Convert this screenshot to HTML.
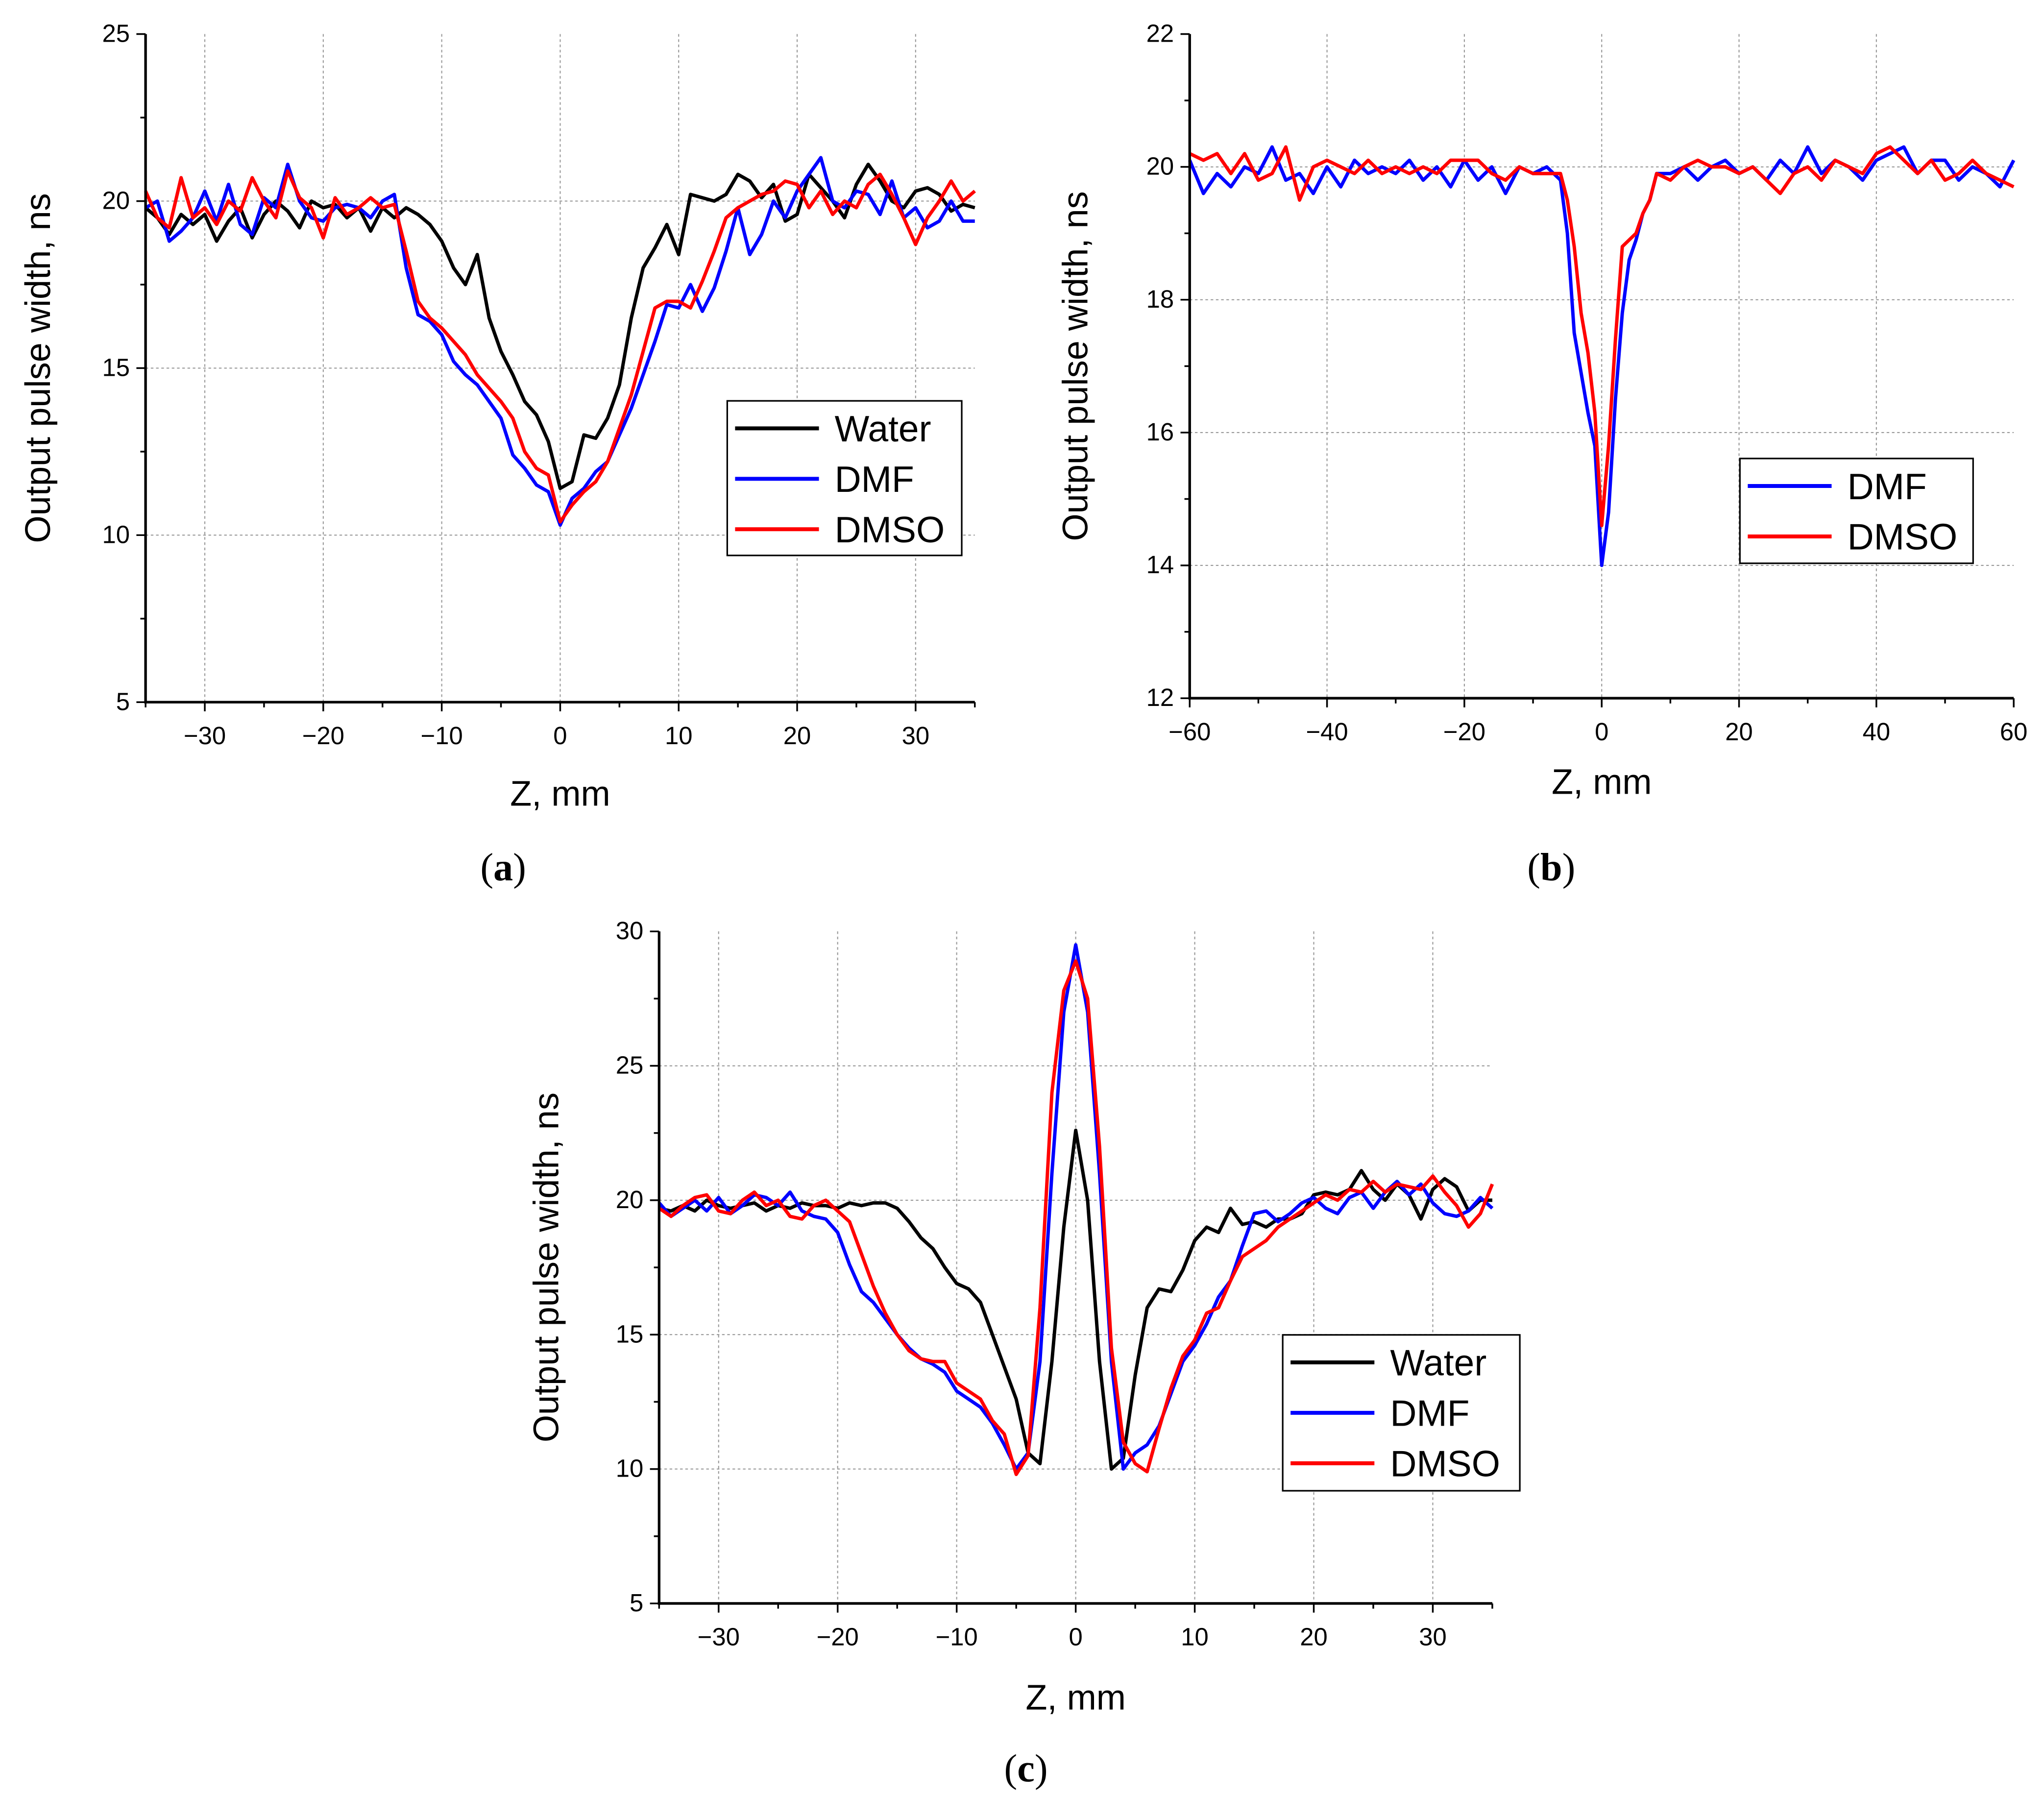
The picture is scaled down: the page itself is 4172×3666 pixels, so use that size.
<!DOCTYPE html>
<html><head><meta charset="utf-8"><style>
html,body{margin:0;padding:0;background:#fff;}
svg{display:block;}
text{font-family:"Liberation Sans Narrow","Liberation Sans",sans-serif;fill:#000;}
.cap{font-family:"Liberation Serif",serif;}
</style></head><body>
<svg id="fig" width="4172" height="3666" viewBox="0 0 1560 1371" xmlns="http://www.w3.org/2000/svg"></svg>
<script>
// ---------- Panel (a) data ----------
const aX = [-35,-34,-33,-32,-31,-30,-29,-28,-27,-26,-25,-24,-23,-22,-21,-20,-19,-18,-17,-16,-15,-14,-13,-12,-11,-10,-9,-8,-7,-6,-5,-4,-3,-2,-1,0,1,2,3,4,5,6,7,8,9,10,11,12,13,14,15,16,17,18,19,20,21,22,23,24,25,26,27,28,29,30,31,32,33,34,35];
const aWater = [19.8,19.5,19.0,19.6,19.3,19.6,18.8,19.4,19.8,18.9,19.6,20.0,19.7,19.2,20.0,19.8,19.9,19.5,19.8,19.1,19.8,19.5,19.8,19.6,19.3,18.8,18.0,17.5,18.4,16.5,15.5,14.8,14.0,13.6,12.8,11.4,11.6,13.0,12.9,13.5,14.5,16.5,18.0,18.6,19.3,18.4,20.2,20.1,20.0,20.2,20.8,20.6,20.1,20.5,19.4,19.6,20.8,20.4,20.0,19.5,20.5,21.1,20.6,20.0,19.8,20.3,20.4,20.2,19.7,19.9,19.8];
const aDMF = [19.8,20.0,18.8,19.1,19.5,20.3,19.4,20.5,19.3,19.0,20.1,19.8,21.1,20.0,19.5,19.4,19.8,19.9,19.8,19.5,20.0,20.2,18.0,16.6,16.4,16.0,15.2,14.8,14.5,14.0,13.5,12.4,12.0,11.5,11.3,10.3,11.1,11.4,11.9,12.2,13.0,13.8,14.8,15.8,16.9,16.8,17.5,16.7,17.4,18.5,19.8,18.4,19.0,20.0,19.5,20.3,20.8,21.3,20.0,19.8,20.3,20.2,19.6,20.6,19.5,19.8,19.2,19.4,20.0,19.4,19.4];
const aDMSO = [20.3,19.5,19.2,20.7,19.5,19.8,19.3,20.0,19.7,20.7,20.0,19.5,20.9,20.1,19.8,18.9,20.1,19.6,19.8,20.1,19.8,19.9,18.5,17.0,16.5,16.2,15.8,15.4,14.8,14.4,14.0,13.5,12.5,12.0,11.8,10.4,10.9,11.3,11.6,12.2,13.2,14.2,15.5,16.8,17.0,17.0,16.8,17.6,18.5,19.5,19.8,20.0,20.2,20.3,20.6,20.5,19.8,20.3,19.6,20.0,19.8,20.5,20.8,20.2,19.5,18.7,19.5,20.0,20.6,20.0,20.3];
const aXTicks = [-30,-20,-10,0,10,20,30];
const aYTicks = [5,10,15,20,25];

// ---------- Panel (b) data ----------
const bX = [-60,-58,-56,-54,-52,-50,-48,-46,-44,-42,-40,-38,-36,-34,-32,-30,-28,-26,-24,-22,-20,-18,-16,-14,-12,-10,-8,-7,-6,-5,-4,-3,-2,-1,0,1,2,3,4,5,6,7,8,10,12,14,16,18,20,22,24,26,28,30,32,34,36,38,40,42,44,46,48,50,52,54,56,58,60];
const bDMF = [20.1,19.6,19.9,19.7,20.0,19.9,20.3,19.8,19.9,19.6,20.0,19.7,20.1,19.9,20.0,19.9,20.1,19.8,20.0,19.7,20.1,19.8,20.0,19.6,20.0,19.9,20.0,19.9,19.8,19.0,17.5,16.9,16.3,15.8,14.0,14.8,16.5,17.8,18.6,18.9,19.3,19.5,19.9,19.9,20.0,19.8,20.0,20.1,19.9,20.0,19.8,20.1,19.9,20.3,19.9,20.1,20.0,19.8,20.1,20.2,20.3,19.9,20.1,20.1,19.8,20.0,19.9,19.7,20.1];
const bDMSO = [20.2,20.1,20.2,19.9,20.2,19.8,19.9,20.3,19.5,20.0,20.1,20.0,19.9,20.1,19.9,20.0,19.9,20.0,19.9,20.1,20.1,20.1,19.9,19.8,20.0,19.9,19.9,19.9,19.9,19.5,18.8,17.8,17.2,16.3,14.6,15.8,17.4,18.8,18.9,19.0,19.3,19.5,19.9,19.8,20.0,20.1,20.0,20.0,19.9,20.0,19.8,19.6,19.9,20.0,19.8,20.1,20.0,19.9,20.2,20.3,20.1,19.9,20.1,19.8,19.9,20.1,19.9,19.8,19.7];
const bXTicks = [-60,-40,-20,0,20,40,60];
const bYTicks = [12,14,16,18,20,22];

// ---------- Panel (c) data ----------
const cX = aX.slice();
const cWater = [19.7,19.6,19.8,19.6,20.0,19.8,19.7,19.8,19.9,19.6,19.8,19.7,19.9,19.8,19.8,19.7,19.9,19.8,19.9,19.9,19.7,19.2,18.6,18.2,17.5,16.9,16.7,16.2,15.0,13.8,12.6,10.6,10.2,14.0,19.0,22.6,20.0,14.0,10.0,10.4,13.5,16.0,16.7,16.6,17.4,18.5,19.0,18.8,19.7,19.1,19.2,19.0,19.3,19.3,19.5,20.2,20.3,20.2,20.4,21.1,20.4,20.0,20.6,20.2,19.3,20.4,20.8,20.5,19.6,20.0,20.0];
const cDMF = [19.9,19.4,19.7,20.0,19.6,20.1,19.5,19.8,20.2,20.1,19.8,20.3,19.6,19.4,19.3,18.8,17.6,16.6,16.2,15.6,15.0,14.5,14.1,13.9,13.6,12.9,12.6,12.3,11.7,10.9,10.0,10.6,14.0,21.0,27.0,29.5,27.0,21.0,14.0,10.0,10.6,10.9,11.6,12.8,14.0,14.6,15.4,16.4,17.0,18.3,19.5,19.6,19.2,19.5,19.9,20.1,19.7,19.5,20.1,20.3,19.7,20.3,20.7,20.2,20.6,19.9,19.5,19.4,19.6,20.1,19.7];
const cDMSO = [19.7,19.4,19.8,20.1,20.2,19.6,19.5,20.0,20.3,19.8,20.0,19.4,19.3,19.8,20.0,19.6,19.2,18.0,16.8,15.8,15.0,14.4,14.1,14.0,14.0,13.2,12.9,12.6,11.8,11.3,9.8,10.5,16.0,24.0,27.8,28.9,27.5,22.0,14.5,11.0,10.2,9.9,11.5,13.0,14.2,14.8,15.8,16.0,17.0,17.9,18.2,18.5,19.0,19.3,19.6,19.9,20.2,20.0,20.4,20.3,20.7,20.3,20.6,20.5,20.4,20.9,20.3,19.8,19.0,19.5,20.6];
const cXTicks = [-30,-20,-10,0,10,20,30];
const cYTicks = [5,10,15,20,25,30];

const NS = "http://www.w3.org/2000/svg";
const svg = document.getElementById('fig');
function mk(tag, attrs, parent){
  const e = document.createElementNS(NS, tag);
  for (const k in attrs) e.setAttribute(k, attrs[k]);
  (parent||svg).appendChild(e);
  return e;
}

function panel(p){
  const g = mk('g', {});
  
  
  const sx = v => p.x0 + (v - p.xmin) / (p.xmax - p.xmin) * (p.x1 - p.x0);
  const sy = v => p.y1 - (v - p.ymin) / (p.ymax - p.ymin) * (p.y1 - p.y0);
  p.xt.forEach(v => { if (v > p.xmin && v < p.xmax) {
    const l = mk('line', {x1:sx(v), x2:sx(v), y1:p.y0, y2:p.y1, stroke:'#999', 'stroke-width':0.8, 'stroke-dasharray':'2,2'}, g);
    
    
  }});
  p.yt.forEach(v => { if (v > p.ymin && v < p.ymax) {
    const l = mk('line', {x1:p.x0, x2:p.x1, y1:sy(v), y2:sy(v), stroke:'#999', 'stroke-width':0.8, 'stroke-dasharray':'2,2'}, g);
    
    
  }});
  p.series.forEach(s => {
    const pts = s.y.map((v,i) => sx(p.xs[i]).toFixed(2) + ',' + sy(v).toFixed(2)).join(' ');
    const pl = mk('polyline', {points:pts, fill:'none', stroke:s.color, 'stroke-width':2.6, 'stroke-linejoin':'round'}, g);
    
    
  });
  const ax = mk('line', {x1:p.x0-1, x2:p.x1, y1:p.y1, y2:p.y1, stroke:'#000', 'stroke-width':2}, g);
  
  
  const ay = mk('line', {x1:p.x0, x2:p.x0, y1:p.y0, y2:p.y1+1, stroke:'#000', 'stroke-width':2}, g);
  
  
  const xstep = p.xt[1] - p.xt[0];
  for (let v = p.xt[0] - xstep; v <= p.xmax + 0.001; v += xstep/2) {
    if (v < p.xmin - 0.001) continue;
    const major = p.xt.includes(Math.round(v*100)/100);
    mk('line', {x1:sx(v), x2:sx(v), y1:p.y1, y2:p.y1 + (major?7:4), stroke:'#000', 'stroke-width':1.3}, g);
  }
  p.xt.forEach(v => {
    const t = mk('text', {x:sx(v), y:p.y1+32, 'font-size':19, 'text-anchor':'middle'}, g);
    t.textContent = (v < 0 ? '\u2212' : '') + Math.abs(v);
    
    
  });
  const ystep = p.yt[1] - p.yt[0];
  for (let v = p.ymin; v <= p.ymax + 0.001; v += ystep/2) {
    const major = p.yt.some(t => Math.abs(t - v) < 0.001);
    mk('line', {x1:p.x0, x2:p.x0 - (major?7:4), y1:sy(v), y2:sy(v), stroke:'#000', 'stroke-width':1.3}, g);
  }
  p.yt.forEach(v => {
    const t = mk('text', {x:p.x0-12, y:sy(v)+6, 'font-size':19, 'text-anchor':'end'}, g);
    t.textContent = v;
    
    
  });
  const yt = mk('text', {x:0, y:0, 'font-size':27, 'text-anchor':'middle', transform:`translate(${p.ylx},${(p.y0+p.y1)/2}) rotate(-90)`}, g);
  yt.textContent = 'Output pulse width, ns';
  
  
  const xt = mk('text', {x:(p.x0+p.x1)/2, y:p.xly, 'font-size':27, 'text-anchor':'middle'}, g);
  xt.textContent = 'Z, mm';
  
  
  const cap = mk('text', {x:p.capx, y:p.capy, 'font-size':30, 'text-anchor':'middle', class:'cap'}, g);
  cap.innerHTML = '(<tspan font-weight="bold">' + p.id + '</tspan>)';
  
  
  const L = p.leg;
  const lg = mk('g', {}, g);
  
  
  mk('rect', {x:L.x, y:L.y, width:L.w, height:L.h, fill:'#fff', stroke:'#000', 'stroke-width':1.2}, lg);
  p.series.forEach((s,i) => {
    const yy = L.y + 21 + i*38.5;
    mk('line', {x1:L.x+6, x2:L.x+70, y1:yy, y2:yy, stroke:s.color, 'stroke-width':3}, lg);
    const t = mk('text', {x:L.x+82, y:yy+10, 'font-size':28}, lg);
    t.textContent = s.name;
    
    
  });
}

panel({id:'a', x0:111, x1:744, y0:26, y1:536, xmin:-35, xmax:35, ymin:5, ymax:25, xs:aX, xt:aXTicks, yt:aYTicks,
  series:[{name:'Water', color:'#000', y:aWater},{name:'DMF', color:'#0000ff', y:aDMF},{name:'DMSO', color:'#ff0000', y:aDMSO}],
  ylx:38, xly:615, capx:384, capy:672, leg:{x:555, y:306, w:179, h:118}});
panel({id:'b', x0:908, x1:1537, y0:26, y1:533, xmin:-60, xmax:60, ymin:12, ymax:22, xs:bX, xt:bXTicks, yt:bYTicks,
  series:[{name:'DMF', color:'#0000ff', y:bDMF},{name:'DMSO', color:'#ff0000', y:bDMSO}],
  ylx:830, xly:606, capx:1184, capy:672, leg:{x:1328, y:350, w:178, h:80}});
panel({id:'c', x0:503, x1:1139, y0:711, y1:1224, xmin:-35, xmax:35, ymin:5, ymax:30, xs:cX, xt:cXTicks, yt:cYTicks,
  series:[{name:'Water', color:'#000', y:cWater},{name:'DMF', color:'#0000ff', y:cDMF},{name:'DMSO', color:'#ff0000', y:cDMSO}],
  ylx:426, xly:1305, capx:783, capy:1360, leg:{x:979, y:1019, w:181, h:119}});
</script>
</body></html>
